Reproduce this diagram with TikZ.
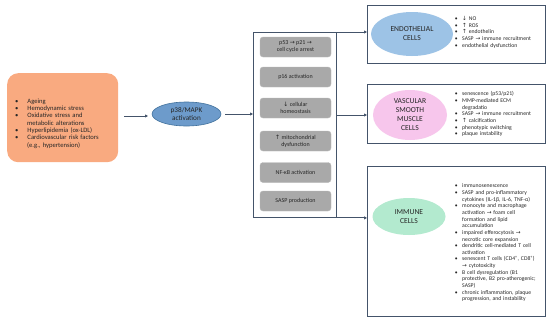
\documentclass[tikz,border=0pt]{standalone}
\usepackage{fontspec}
\setmainfont{Carlito}
\newfontfamily\symf{DejaVu Sans}
\usetikzlibrary{arrows.meta,shapes.geometric}
\newcommand{\arU}{{\symf\char"2191}}
\newcommand{\arD}{{\symf\char"2193}}
\newcommand{\arR}{{\symf\char"2192}}
\newenvironment{blist}[2]{\begin{list}{\textbullet}{\setlength{\leftmargin}{#1}\setlength{\labelwidth}{3pt}\setlength{\labelsep}{#2}\setlength{\itemsep}{0pt}\setlength{\parsep}{0pt}\setlength{\topsep}{0pt}\setlength{\partopsep}{0pt}\setlength{\itemindent}{0pt}}}{\end{list}}
\definecolor{lineC}{HTML}{44546A}
\definecolor{orangeF}{HTML}{F9AA80}
\definecolor{mapkF}{HTML}{6D9BCB}
\definecolor{mapkD}{HTML}{41719C}
\definecolor{endoF}{HTML}{9DC3E6}
\definecolor{vsmcF}{HTML}{F7C6EC}
\definecolor{immF}{HTML}{B3EACF}
\definecolor{grayF}{HTML}{A9A9A9}
\definecolor{txtC}{HTML}{262626}
\tikzset{
  conn/.style={draw=lineC, line width=0.9pt, -{Triangle[length=3pt,width=3pt]}},
  cellbox/.style={draw=lineC, line width=0.9pt, fill=white},
  stepbox/.style={draw=grayF!80!white, fill=grayF, rounded corners=3pt, minimum width=71pt, minimum height=20pt, inner sep=0pt, align=center, font=\fontsize{6}{7}\selectfont, text=txtC},
  cellell/.style={ellipse, inner sep=0pt, align=center, font=\fontsize{7.6}{9}\selectfont, text=txtC},
  bul/.style={anchor=west, inner sep=0pt, font=\fontsize{5.7}{6.65}\selectfont, text=txtC, text width=95pt, align=left}
}
\begin{document}
\begin{tikzpicture}[x=1pt,y=-1pt]
\useasboundingbox (0,0) rectangle (550,322);
% left box
\node[fill=orangeF, rounded corners=11pt, minimum width=111pt, minimum height=89pt, anchor=north west, inner sep=0pt] (risk) at (7,73) {};
\node[bul, font=\fontsize{6.6}{7.35}\selectfont, text width=105pt] (risktxt) at (15,122) {%
\begin{blist}{12pt}{9pt}
\item Ageing
\item Hemodynamic stress
\item Oxidative stress and\\ metabolic alterations
\item Hyperlipidemia (ox-LDL)
\item Cardiovascular risk factors\\ (e.g., hypertension)
\end{blist}};
% mapk
\node[ellipse, draw=mapkD, fill=mapkF, line width=0.6pt, minimum width=69pt, minimum height=24pt, inner sep=0pt, align=center, font=\fontsize{7.2}{8.4}\selectfont, text=txtC] (mapk) at (186.5,114) {p38/MAPK\\activation};
\coordinate (a1) at (124,116);
\coordinate (a1e) at (148,116);
\draw[conn] (a1) -- (a1e);
% container
\node[draw=lineC, line width=0.9pt, minimum width=83pt, minimum height=185pt, anchor=north west, inner sep=0pt] (cont) at (253,32) {};
\coordinate (m1) at (225,114);
\draw[conn] (m1) -- (cont.west |- m1);
% steps
\node[stepbox] (s1) at (295.5,47) {p53 \arR{} p21 \arR{}\\cell cycle arrest};
\node[stepbox] (s2) at (295.5,77) {p16 activation};
\node[stepbox] (s3) at (295.5,108) {\arD{} cellular\\homeostasis};
\node[stepbox] (s4) at (295.5,141) {\arU{} mitochondrial\\dysfunction};
\node[stepbox] (s5) at (295.5,172.5) {NF-κB activation};
\node[stepbox] (s6) at (295.5,201) {SASP production};
% cell boxes
\node[cellbox, minimum width=178pt, minimum height=58pt, anchor=north west, inner sep=0pt] (endo) at (367,5) {};
\node[cellbox, minimum width=178pt, minimum height=59pt, anchor=north west, inner sep=0pt] (vsmc) at (367,84) {};
\node[cellbox, minimum width=178pt, minimum height=150pt, anchor=north west, inner sep=0pt] (imm) at (367,166) {};
% connectors from container
\draw[conn] (cont.north east) -- (cont.north east -| endo.west);
\coordinate (c2) at (cont.east |- 0,115);
\draw[conn] (c2) -- (c2 -| vsmc.west);
\draw[conn] (cont.south east) -- (cont.south east -| imm.west);
% ellipses
\node[cellell, fill=endoF, minimum width=82pt, minimum height=44pt] (endoE) at (412,34) {ENDOTHELIAL\\CELLS};
\node[cellell, fill=vsmcF, minimum width=74pt, minimum height=50pt] (vsmcE) at (410,115) {VASCULAR\\SMOOTH\\MUSCLE\\CELLS};
\node[cellell, fill=immF, minimum width=73pt, minimum height=37pt] (immE) at (409,216.5) {IMMUNE\\CELLS};
% bullet texts
\node[bul] (endoT) at (455,31) {%
\begin{blist}{7pt}{4.5pt}
\item \arD{} NO
\item \arU{} ROS
\item \arU{} endothelin
\item SASP \arR{} immune recruitment
\item endothelial dysfunction
\end{blist}};
\node[bul] (vsmcT) at (455,113) {%
\begin{blist}{7pt}{4.5pt}
\item senescence (p53/p21)
\item MMP-mediated ECM\\ degradatio
\item SASP \arR{} immune recruitment
\item \arU{} calcification
\item phenotypic switching
\item plaque instability
\end{blist}};
\node[bul] (immT) at (455,241.5) {%
\begin{blist}{7pt}{4.5pt}
\item immunosenescence
\item SASP and pro-inflammatory\\ cytokines (IL-1β, IL-6, TNF-α)
\item monocyte and macrophage\\ activation \arR{} foam cell\\ formation and lipid\\ accumulation
\item impaired efferocytosis \arR{}\\ necrotic core expansion
\item dendritic cell-mediated T cell\\ activation
\item senescent T cells (CD4\textsuperscript{+}, CD8\textsuperscript{+})\\ \arR{} cytotoxicity
\item B cell dysregulation (B1\\ protective, B2 pro-atherogenic;\\ SASP)
\item chronic inflammation, plaque\\ progression, and instability
\end{blist}};
\end{tikzpicture}
\end{document}
